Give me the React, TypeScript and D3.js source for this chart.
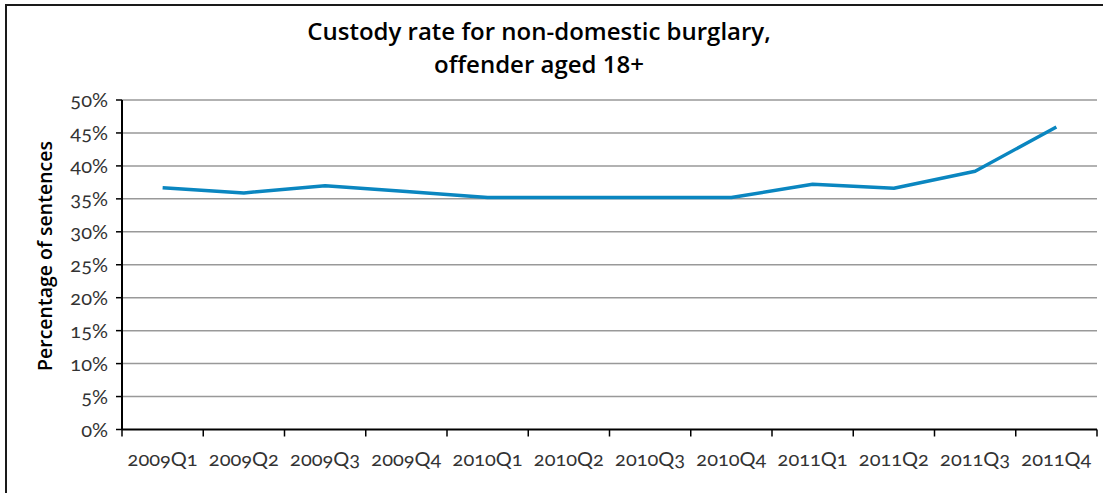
import React from "react";
import * as d3 from "d3";

const categories = ["2009Q1","2009Q2","2009Q3","2009Q4","2010Q1","2010Q2","2010Q3","2010Q4","2011Q1","2011Q2","2011Q3","2011Q4"];
const custodyRate = [36.7, 35.9, 37.0, 36.1, 35.2, 35.2, 35.2, 35.2, 37.2, 36.6, 39.2, 45.9];
const yTicks = [0, 5, 10, 15, 20, 25, 30, 35, 40, 45, 50];
const titleLines = ["Custody rate for non-domestic burglary,", "offender aged 18+"];
const yLabel = "Percentage of sentences";

const W = 1103, H = 493;
const left = 122, right = 1097, top = 100, bottom = 429.5;

export default function App() {
  const x = d3.scaleBand<string>().domain(categories).range([left, right]);
  const y = d3.scaleLinear().domain([0, 50]).range([bottom, top]);
  const line = d3.line<number>()
    .x((_, i) => (x(categories[i]) as number) + x.bandwidth() / 2)
    .y((d) => y(d));
  const font = "Lato, 'Open Sans', sans-serif";
  const titleFont = "'Open Sans', Lato, sans-serif";
  const boundaries = categories.map((c) => x(c) as number).concat([right]);
  return (
    <svg width={W} height={H} style={{ position: "fixed", left: 0, top: 0, background: "#fff" }}>
      <rect x={0} y={0} width={W} height={H} fill="#fff" />
      <rect x={6} y={5} width={W + 10} height={H + 10} fill="none" stroke="#1a1a1a" strokeWidth={2} />
      {titleLines.map((t, i) => (
        <text key={i} x={539} y={40 + i * 33} textAnchor="middle" fontFamily={titleFont} fontWeight={600} fontSize={24} fill="#000">{t}</text>
      ))}
      {yTicks.map((v) => (
        <g key={v}>
          {v > 0 && <line x1={left} x2={right} y1={y(v)} y2={y(v)} stroke="#999" strokeWidth={1.5} />}
          <line x1={left - 6} x2={left} y1={y(v)} y2={y(v)} stroke="#000" strokeWidth={1.5} />
          <text x={108} y={y(v)} dy="0.36em" textAnchor="end" fontFamily={font} fontWeight={400} fontSize={20} fill="#333" style={{ fontVariantNumeric: "oldstyle-nums" }}>{v}%</text>
        </g>
      ))}
      <line x1={left} x2={left} y1={top} y2={bottom} stroke="#000" strokeWidth={2} />
      <line x1={left} x2={right} y1={bottom} y2={bottom} stroke="#000" strokeWidth={2} />
      {boundaries.map((b, i) => (
        <line key={i} x1={b} x2={b} y1={bottom} y2={bottom + 7} stroke="#000" strokeWidth={1.5} />
      ))}
      {categories.map((c) => (
        <text key={c} x={(x(c) as number) + x.bandwidth() / 2} y={466} textAnchor="middle" fontFamily={font} fontWeight={400} fontSize={20} fill="#333" style={{ fontVariantNumeric: "oldstyle-nums" }}>{c}</text>
      ))}
      <text transform={`translate(52, 256) rotate(-90)`} textAnchor="middle" fontFamily={titleFont} fontWeight={600} fontSize={19.5} fill="#000">{yLabel}</text>
      <path d={line(custodyRate) || ""} fill="none" stroke="#0a86c0" strokeWidth={3.5} strokeLinejoin="round" />
    </svg>
  );
}
